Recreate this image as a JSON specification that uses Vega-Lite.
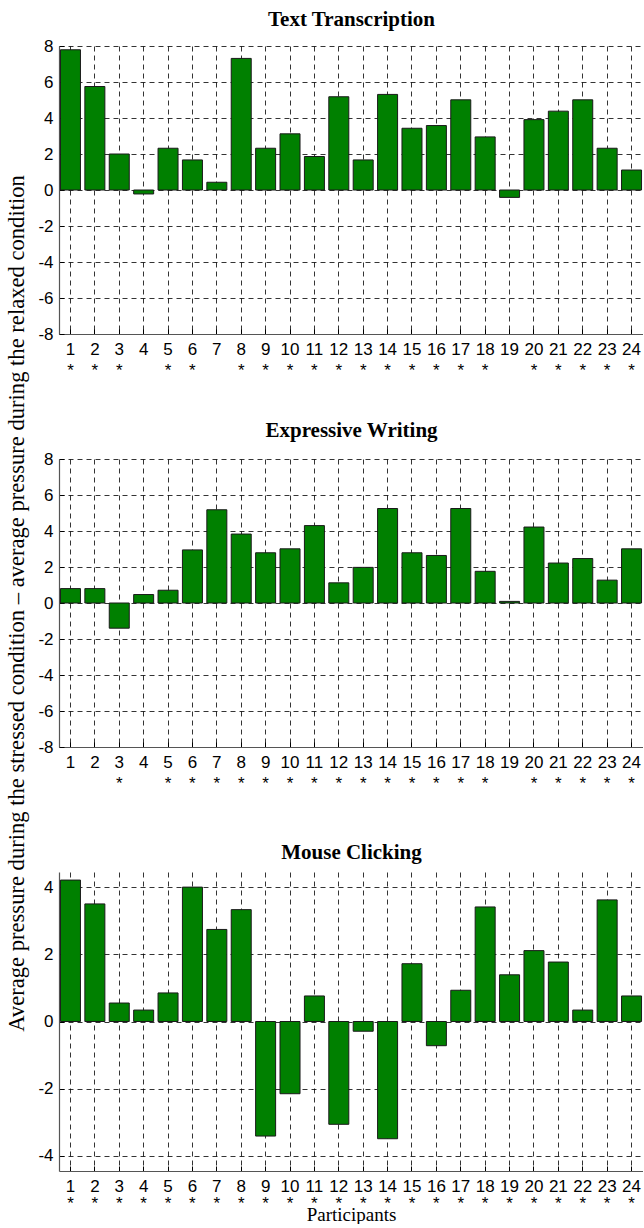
{
  "$schema": "https://vega.github.io/schema/vega-lite/v6.json",
  "padding": {"left": 4, "top": 8, "right": 0, "bottom": 0},
  "bounds": "flush",
  "spacing": 125,
  "config": {
    "view": {"stroke": null},
    "axis": {
      "labelFont": "Liberation Sans", "labelFontSize": 17, "labelColor": "#000",
      "domainColor": "#555", "domainWidth": 1.2, "tickColor": "#000", "tickSize": -5,
      "gridColor": "#000", "gridDash": [5, 4], "gridOpacity": 1, "gridWidth": 0.8,
      "titleFont": "Liberation Serif", "titleFontWeight": "normal", "titleColor": "#000"
    }
  },
  "datasets": {
    "d": [
      {"task": "Text Transcription", "p": 1, "v": 7.79, "sig": true},
      {"task": "Text Transcription", "p": 2, "v": 5.75, "sig": true},
      {"task": "Text Transcription", "p": 3, "v": 2.0, "sig": true},
      {"task": "Text Transcription", "p": 4, "v": -0.22, "sig": false},
      {"task": "Text Transcription", "p": 5, "v": 2.32, "sig": true},
      {"task": "Text Transcription", "p": 6, "v": 1.67, "sig": true},
      {"task": "Text Transcription", "p": 7, "v": 0.43, "sig": false},
      {"task": "Text Transcription", "p": 8, "v": 7.31, "sig": true},
      {"task": "Text Transcription", "p": 9, "v": 2.32, "sig": true},
      {"task": "Text Transcription", "p": 10, "v": 3.12, "sig": true},
      {"task": "Text Transcription", "p": 11, "v": 1.86, "sig": true},
      {"task": "Text Transcription", "p": 12, "v": 5.18, "sig": true},
      {"task": "Text Transcription", "p": 13, "v": 1.67, "sig": true},
      {"task": "Text Transcription", "p": 14, "v": 5.31, "sig": true},
      {"task": "Text Transcription", "p": 15, "v": 3.43, "sig": true},
      {"task": "Text Transcription", "p": 16, "v": 3.58, "sig": true},
      {"task": "Text Transcription", "p": 17, "v": 5.01, "sig": true},
      {"task": "Text Transcription", "p": 18, "v": 2.95, "sig": true},
      {"task": "Text Transcription", "p": 19, "v": -0.41, "sig": false},
      {"task": "Text Transcription", "p": 20, "v": 3.91, "sig": true},
      {"task": "Text Transcription", "p": 21, "v": 4.38, "sig": true},
      {"task": "Text Transcription", "p": 22, "v": 5.01, "sig": true},
      {"task": "Text Transcription", "p": 23, "v": 2.32, "sig": true},
      {"task": "Text Transcription", "p": 24, "v": 1.11, "sig": true},
      {"task": "Expressive Writing", "p": 1, "v": 0.80, "sig": false},
      {"task": "Expressive Writing", "p": 2, "v": 0.80, "sig": false},
      {"task": "Expressive Writing", "p": 3, "v": -1.40, "sig": true},
      {"task": "Expressive Writing", "p": 4, "v": 0.47, "sig": false},
      {"task": "Expressive Writing", "p": 5, "v": 0.71, "sig": true},
      {"task": "Expressive Writing", "p": 6, "v": 2.95, "sig": true},
      {"task": "Expressive Writing", "p": 7, "v": 5.18, "sig": true},
      {"task": "Expressive Writing", "p": 8, "v": 3.83, "sig": true},
      {"task": "Expressive Writing", "p": 9, "v": 2.79, "sig": true},
      {"task": "Expressive Writing", "p": 10, "v": 3.01, "sig": true},
      {"task": "Expressive Writing", "p": 11, "v": 4.30, "sig": true},
      {"task": "Expressive Writing", "p": 12, "v": 1.12, "sig": true},
      {"task": "Expressive Writing", "p": 13, "v": 1.98, "sig": true},
      {"task": "Expressive Writing", "p": 14, "v": 5.25, "sig": true},
      {"task": "Expressive Writing", "p": 15, "v": 2.79, "sig": true},
      {"task": "Expressive Writing", "p": 16, "v": 2.64, "sig": true},
      {"task": "Expressive Writing", "p": 17, "v": 5.25, "sig": true},
      {"task": "Expressive Writing", "p": 18, "v": 1.76, "sig": true},
      {"task": "Expressive Writing", "p": 19, "v": 0.09, "sig": false},
      {"task": "Expressive Writing", "p": 20, "v": 4.22, "sig": true},
      {"task": "Expressive Writing", "p": 21, "v": 2.22, "sig": true},
      {"task": "Expressive Writing", "p": 22, "v": 2.47, "sig": true},
      {"task": "Expressive Writing", "p": 23, "v": 1.27, "sig": true},
      {"task": "Expressive Writing", "p": 24, "v": 3.01, "sig": true},
      {"task": "Mouse Clicking", "p": 1, "v": 4.21, "sig": true},
      {"task": "Mouse Clicking", "p": 2, "v": 3.50, "sig": true},
      {"task": "Mouse Clicking", "p": 3, "v": 0.55, "sig": true},
      {"task": "Mouse Clicking", "p": 4, "v": 0.34, "sig": true},
      {"task": "Mouse Clicking", "p": 5, "v": 0.85, "sig": true},
      {"task": "Mouse Clicking", "p": 6, "v": 4.0, "sig": true},
      {"task": "Mouse Clicking", "p": 7, "v": 2.74, "sig": true},
      {"task": "Mouse Clicking", "p": 8, "v": 3.33, "sig": true},
      {"task": "Mouse Clicking", "p": 9, "v": -3.41, "sig": true},
      {"task": "Mouse Clicking", "p": 10, "v": -2.15, "sig": true},
      {"task": "Mouse Clicking", "p": 11, "v": 0.76, "sig": true},
      {"task": "Mouse Clicking", "p": 12, "v": -3.06, "sig": true},
      {"task": "Mouse Clicking", "p": 13, "v": -0.29, "sig": true},
      {"task": "Mouse Clicking", "p": 14, "v": -3.49, "sig": true},
      {"task": "Mouse Clicking", "p": 15, "v": 1.72, "sig": true},
      {"task": "Mouse Clicking", "p": 16, "v": -0.72, "sig": true},
      {"task": "Mouse Clicking", "p": 17, "v": 0.93, "sig": true},
      {"task": "Mouse Clicking", "p": 18, "v": 3.41, "sig": true},
      {"task": "Mouse Clicking", "p": 19, "v": 1.39, "sig": true},
      {"task": "Mouse Clicking", "p": 20, "v": 2.11, "sig": true},
      {"task": "Mouse Clicking", "p": 21, "v": 1.77, "sig": true},
      {"task": "Mouse Clicking", "p": 22, "v": 0.34, "sig": true},
      {"task": "Mouse Clicking", "p": 23, "v": 3.62, "sig": true},
      {"task": "Mouse Clicking", "p": 24, "v": 0.76, "sig": true}
    ]
  },
  "vconcat": [
    {
      "width": 584, "height": 288,
      "data": {"name": "d"},
      "transform": [{"filter": "datum.task == 'Text Transcription'"}],
      "resolve": {"axis": {"x": "independent"}},
      "layer": [
        {"mark": {"type": "bar", "color": "#008000", "stroke": "#1a1a1a", "strokeWidth": 1},
         "encoding": {
           "x": {"field": "p", "type": "ordinal", "scale": {"paddingInner": 0.18, "paddingOuter": 0.06},
                 "axis": {"title": null, "labelAngle": 0, "labelPadding": 12, "grid": true}},
           "y": {"field": "v", "type": "quantitative", "scale": {"domain": [-8, 8], "nice": false},
                 "axis": {"title": null, "values": [-8, -6, -4, -2, 0, 2, 4, 6, 8], "labelExpr": "toString(datum.value)", "labelPadding": 11, "grid": true}}}},
        {"transform": [{"filter": "datum.sig"}],
         "mark": {"type": "text", "text": "*", "font": "Liberation Sans", "fontSize": 17, "baseline": "alphabetic", "dy": 42, "color": "#000"},
         "encoding": {
           "x": {"field": "p", "type": "ordinal",
                 "axis": {"orient": "top", "title": "Text Transcription", "titleFont": "Liberation Serif", "titleFontSize": 21, "titleFontWeight": "bold", "titleBaseline": "alphabetic", "titlePadding": 21, "labels": false, "ticks": false, "domain": false, "grid": false}},
           "y": {"datum": -8, "type": "quantitative",
                 "axis": {"title": null, "values": [-8, -6, -4, -2, 0, 2, 4, 6, 8], "labelExpr": "toString(datum.value)", "labelPadding": 11, "grid": true}}}}
      ]
    },
    {
      "width": 584, "height": 288,
      "data": {"name": "d"},
      "transform": [{"filter": "datum.task == 'Expressive Writing'"}],
      "resolve": {"axis": {"x": "independent"}},
      "layer": [
        {"mark": {"type": "bar", "color": "#008000", "stroke": "#1a1a1a", "strokeWidth": 1},
         "encoding": {
           "x": {"field": "p", "type": "ordinal", "scale": {"paddingInner": 0.18, "paddingOuter": 0.06},
                 "axis": {"title": null, "labelAngle": 0, "labelPadding": 12, "grid": true}},
           "y": {"field": "v", "type": "quantitative", "scale": {"domain": [-8, 8], "nice": false},
                 "axis": {"title": "Average pressure during the stressed condition – average pressure during the relaxed condition",
                          "titleFontSize": 22.6, "titleX": -36, "titleBaseline": "alphabetic",
                          "values": [-8, -6, -4, -2, 0, 2, 4, 6, 8], "labelExpr": "toString(datum.value)", "labelPadding": 11, "grid": true}}}},
        {"transform": [{"filter": "datum.sig"}],
         "mark": {"type": "text", "text": "*", "font": "Liberation Sans", "fontSize": 17, "baseline": "alphabetic", "dy": 42, "color": "#000"},
         "encoding": {
           "x": {"field": "p", "type": "ordinal",
                 "axis": {"orient": "top", "title": "Expressive Writing", "titleFont": "Liberation Serif", "titleFontSize": 21, "titleFontWeight": "bold", "titleBaseline": "alphabetic", "titlePadding": 23, "labels": false, "ticks": false, "domain": false, "grid": false}},
           "y": {"datum": -8, "type": "quantitative",
                 "axis": {"title": "Average pressure during the stressed condition – average pressure during the relaxed condition",
                          "titleFontSize": 22.6, "titleX": -36, "titleBaseline": "alphabetic",
                          "values": [-8, -6, -4, -2, 0, 2, 4, 6, 8], "labelExpr": "toString(datum.value)", "labelPadding": 11, "grid": true}}}}
      ]
    },
    {
      "width": 584, "height": 299,
      "data": {"name": "d"},
      "transform": [{"filter": "datum.task == 'Mouse Clicking'"}],
      "resolve": {"axis": {"x": "independent"}},
      "layer": [
        {"mark": {"type": "bar", "color": "#008000", "stroke": "#1a1a1a", "strokeWidth": 1},
         "encoding": {
           "x": {"field": "p", "type": "ordinal", "scale": {"paddingInner": 0.18, "paddingOuter": 0.06},
                 "axis": {"title": "Participants", "titleFontSize": 19, "titlePadding": 11, "labelAngle": 0, "labelPadding": 12, "grid": true}},
           "y": {"field": "v", "type": "quantitative", "scale": {"domain": [-4.45, 4.45], "nice": false},
                 "axis": {"title": null, "values": [-4, -2, 0, 2, 4], "labelExpr": "toString(datum.value)", "labelPadding": 11, "grid": true}}}},
        {"transform": [{"filter": "datum.sig"}],
         "mark": {"type": "text", "text": "*", "font": "Liberation Sans", "fontSize": 17, "baseline": "alphabetic", "dy": 38, "color": "#000"},
         "encoding": {
           "x": {"field": "p", "type": "ordinal",
                 "axis": {"orient": "top", "title": "Mouse Clicking", "titleFont": "Liberation Serif", "titleFontSize": 21, "titleFontWeight": "bold", "titleBaseline": "alphabetic", "titlePadding": 14, "labels": false, "ticks": false, "domain": false, "grid": false}},
           "y": {"datum": -4.45, "type": "quantitative",
                 "axis": {"title": null, "values": [-4, -2, 0, 2, 4], "labelExpr": "toString(datum.value)", "labelPadding": 11, "grid": true}}}}
      ]
    }
  ]
}
